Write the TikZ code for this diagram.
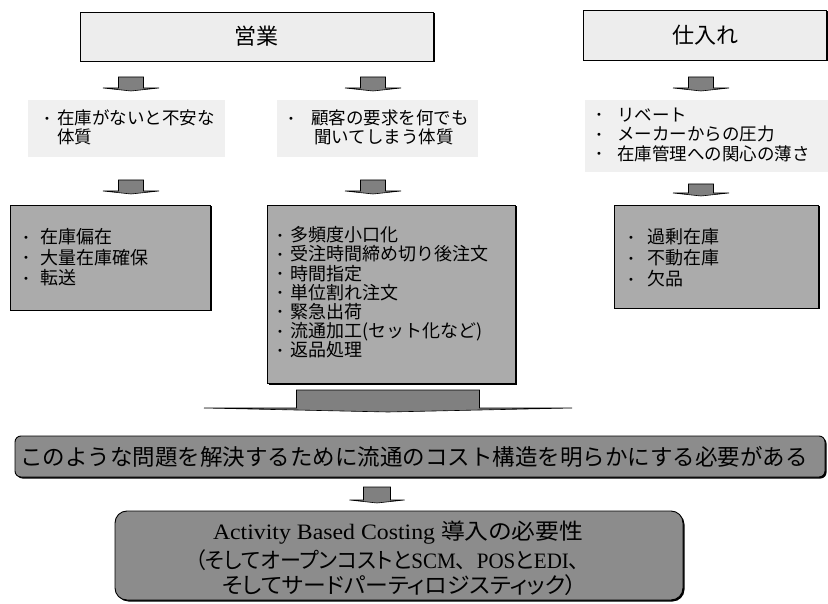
\documentclass[tikz,border=0pt]{standalone}
\usepackage{fontspec}
\usepackage{graphicx}
\setmainfont{Noto Sans CJK JP}
\newfontfamily\jpp[RawFeature=+palt]{Noto Sans CJK JP}
\newfontfamily\jpn{Noto Sans CJK JP}
\newfontfamily\lser{Liberation Serif}
\newfontfamily\symf{DejaVu Sans}
\usetikzlibrary{shadows}
\newcommand\mybul[1]{\makebox[#1][l]{\raisebox{2.6pt}{\symf\fontsize{10}{10}\selectfont •}}}
\newcommand\myind[1]{\makebox[#1]{}}
\begin{document}
\begin{tikzpicture}[x=1pt,y=-1pt,
  shad/.style={drop shadow={shadow xshift=1.5pt,shadow yshift=-1.5pt,fill=black,opacity=1}},
  topbox/.style={draw=black,line width=0.9pt,fill=black!7,shad,inner sep=0pt,font=\fontsize{22}{22}\selectfont},
  lightblock/.style={fill=black!6,inner sep=0pt},
  listbox/.style={draw=black,line width=0.9pt,fill=black!33,shad,inner sep=0pt},
  bigbox/.style={draw=black,line width=0.9pt,fill=black!45,shad,inner sep=0pt},
  listtxt/.style={anchor=west,inner sep=0pt,align=left},
  arrowst/.style={draw=black,line width=0.6pt,fill=black!50},
  pics/blockarr/.style n args={4}{code={
    \draw[arrowst] (-#1,0) -- (#1,0) -- (#1,#2) -- (#3,#2) -- (0,#2+#4) -- (-#3,#2) -- (-#1,#2) -- cycle;
  }}
]
\useasboundingbox (0,0) rectangle (828,604);

% top boxes
\node[topbox,minimum width=353pt,minimum height=49pt] (eig) at (256.5,36.5) {営業};
\node[topbox,minimum width=243pt,minimum height=50pt] (shi) at (705,35) {仕入れ};

% arrows row 1
\pic at (131,77) {blockarr={12.5}{11}{28}{3}};
\pic at (373,77) {blockarr={12.5}{11}{28}{3}};
\pic at (701,77) {blockarr={12.5}{11}{28}{3}};

% light text blocks
\node[lightblock,minimum width=197pt,minimum height=57pt] (t1) at (126.5,128.5) {};
\node[lightblock,minimum width=201pt,minimum height=57pt] (t2) at (377.5,128.5) {};
\node[lightblock,minimum width=243pt,minimum height=72pt] (t3) at (706.5,136) {};

\node[listtxt,font=\fontsize{17.5}{19}\selectfont] (t1x) at (44,127.5)
  {\mybul{13pt}在庫がないと不安な\\\myind{13pt}体質};
\node[listtxt,font=\fontsize{17.5}{19}\selectfont] (t2x) at (288,127.5)
  {\mybul{23pt}顧客の要求を何でも\\\myind{26pt}聞いてしまう体質};
\node[listtxt,font=\fontsize{17.5}{19.5}\selectfont] (t3x) at (596,134.7)
  {\mybul{21pt}リベート\\\mybul{21pt}メーカーからの圧力\\\mybul{21pt}在庫管理への関心の薄さ};

% arrows row 2
\pic at (131,180) {blockarr={12.5}{11}{28}{3}};
\pic at (373,180) {blockarr={12.5}{11}{28}{3}};
\pic at (701,184) {blockarr={12.5}{9}{28}{3}};

% list boxes
\node[listbox,minimum width=200pt,minimum height=105pt] (bl) at (110,257.5) {};
\node[listbox,minimum width=248pt,minimum height=178pt] (bm) at (391,294) {};
\node[listbox,minimum width=204pt,minimum height=103pt] (br) at (716,256.5) {};

\node[listtxt,font=\fontsize{18}{20.5}\selectfont] (blx) at (23,257.5)
  {\mybul{17pt}在庫偏在\\\mybul{17pt}大量在庫確保\\\mybul{17pt}転送};
\node[listtxt,font=\fontsize{18}{19.2}\selectfont] (bmx) at (277,292.5)
  {\mybul{13pt}多頻度小口化\\\mybul{13pt}受注時間締め切り後注文\\\mybul{13pt}時間指定\\\mybul{13pt}単位割れ注文\\\mybul{13pt}緊急出荷\\\mybul{13pt}流通加工(セット化など)\\\mybul{13pt}返品処理};
\node[listtxt,font=\fontsize{18}{21}\selectfont] (brx) at (628,258)
  {\mybul{19pt}過剰在庫\\\mybul{19pt}不動在庫\\\mybul{19pt}欠品};

% big arrow
\pic at (388,390) {blockarr={91.5}{18}{184}{4}};

% wide box
\node[bigbox,rounded corners=6pt,minimum width=810pt,minimum height=41pt] (wide) at (420,456.5) {};
\node[inner sep=0pt,font=\fontsize{22.5}{22.5}\selectfont] (widex) at (414,457)
  {このような問題を解決するために流通のコスト構造を明らかにする必要がある};

% small arrow
\pic at (377,487) {blockarr={13.5}{13}{27.5}{3}};

% bottom box
\node[bigbox,rounded corners=12pt,minimum width=568pt,minimum height=89pt] (abc) at (399,555.5) {};
\node[inner sep=0pt,font=\fontsize{22}{22}\selectfont] (abc1) at (398,533)
  {\resizebox{370pt}{\height}{{\lser Activity Based Costing }{\jpp 導入の必要性}}};
\node[inner sep=0pt,font=\fontsize{22}{22}\selectfont] (abc2) at (392.5,560)
  {\resizebox{395pt}{\height}{{\jpp （そしてオープンコストと}{\lser SCM}{\jpn 、}{\lser POS}{\jpp と}{\lser EDI}{\jpn 、}}};
\node[inner sep=0pt,font=\fontsize{22}{22}\selectfont] (abc3) at (399.5,585)
  {\resizebox{355pt}{\height}{{\jpp そしてサードパーティロジスティック）}}};
\end{tikzpicture}
\end{document}
